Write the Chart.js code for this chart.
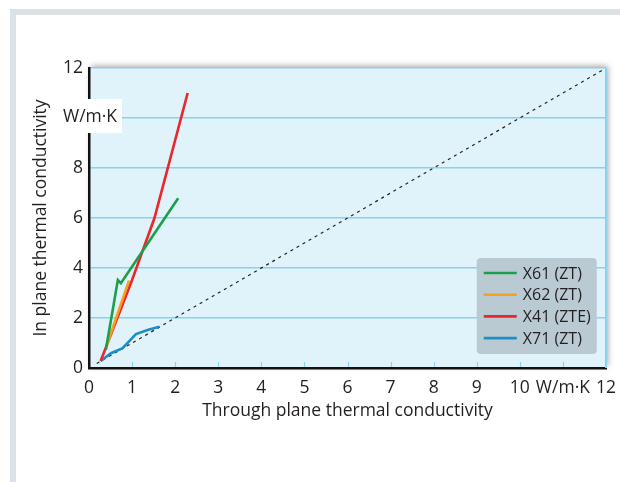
<!DOCTYPE html>
<html>
<head>
<meta charset="utf-8">
<script src="https://cdn.jsdelivr.net/npm/chart.js@4"></script>
<style>
  body { margin: 0; background: #fff; }
  canvas { display: block; }
</style>
</head>
<body>
<canvas id="chart" width="620" height="482"></canvas>
<script>
// tick labels
const unitLabel = "W/m·K";
const xTitle = "Through plane thermal conductivity";
const yTitle = "In plane thermal conductivity";

// series (x = through plane, y = in plane)
const x61X = [0.39, 0.67, 0.74, 2.07];
const x61Y = [0.72, 3.52, 3.39, 6.79];
const x62X = [0.42, 0.93];
const x62Y = [0.95, 3.5];
const x41X = [0.27, 1.0, 1.52, 2.29];
const x41Y = [0.28, 3.52, 6.0, 11.0];
const x71X = [0.27, 0.51, 0.78, 1.09, 1.36, 1.63];
const x71Y = [0.28, 0.59, 0.79, 1.36, 1.52, 1.65];
const refX = [0.18, 12];
const refY = [0.18, 12];

const names = ["X61 (ZT)", "X62 (ZT)", "X41 (ZTE)", "X71 (ZT)"];
const colors = ["#1c9e4a", "#f5a01e", "#e8262c", "#1c8ec6"];

const gridBlue = "#86d2f0";
const textColor = "#231f20";
const font = "'Open Sans'";

function pts(xs, ys) {
    return xs.map((x, i) => ({ x: x, y: ys[i] }));
}

const series = [pts(x61X, x61Y), pts(x62X, x62Y), pts(x41X, x41Y), pts(x71X, x71Y)];

const datasets = series.map((d, i) => ({
    label: names[i],
    data: d,
    borderColor: colors[i],
    borderWidth: 2.6,
    pointRadius: 0,
    fill: false,
    tension: 0
}));
datasets.push({
    label: "ref",
    data: pts(refX, refY),
    borderColor: "#222",
    borderWidth: 1.2,
    borderDash: [3, 4],
    pointRadius: 0,
    fill: false
});

const decor = {
    id: "decor",
    beforeDraw(chart) {
        const ctx = chart.ctx;
        const a = chart.chartArea;
        ctx.save();
        // page frame
        ctx.fillStyle = "#dae1e7";
        ctx.fillRect(10, 9, 610, 6);
        ctx.fillRect(10, 9, 6, 473);
        // plot background with a soft shadow
        ctx.shadowColor = "rgba(0,0,0,0.35)";
        ctx.shadowBlur = 6;
        ctx.shadowOffsetX = 2;
        ctx.shadowOffsetY = -2;
        ctx.fillStyle = "#e1f3fa";
        ctx.fillRect(a.left, a.top, a.right - a.left, a.bottom - a.top);
        ctx.restore();
    },
    afterDatasetsDraw(chart) {
        const ctx = chart.ctx;
        const a = chart.chartArea;
        const xs = chart.scales.x;
        const ys = chart.scales.y;
        ctx.save();
        // right border
        ctx.strokeStyle = gridBlue;
        ctx.lineWidth = 2;
        ctx.beginPath();
        ctx.moveTo(a.right, a.top);
        ctx.lineTo(a.right, a.bottom);
        ctx.stroke();
        // inner tick marks on the x axis
        ctx.lineWidth = 1.2;
        for (let v = 1; v < 12; v++) {
            const px = Math.round(xs.getPixelForValue(v)) + 0.5;
            ctx.beginPath();
            ctx.moveTo(px, a.bottom - 1);
            ctx.lineTo(px, a.bottom - 6);
            ctx.stroke();
        }
        // legend
        const lx = xs.getPixelForValue(9.0), ly = ys.getPixelForValue(4.4);
        const lw = 120, lh = 96;
        ctx.fillStyle = "#b9cad3";
        ctx.beginPath();
        ctx.roundRect(lx, ly, lw, lh, 4);
        ctx.fill();
        ctx.font = "16px " + font;
        ctx.textBaseline = "middle";
        names.forEach((n, i) => {
            const y = ly + 15 + i * 21.7;
            ctx.strokeStyle = colors[i];
            ctx.lineWidth = 2.6;
            ctx.beginPath();
            ctx.moveTo(lx + 7, y);
            ctx.lineTo(lx + 40, y);
            ctx.stroke();
            ctx.fillStyle = textColor;
            ctx.fillText(n, lx + 46, y + 1);
        });
        ctx.restore();
    },
    afterDraw(chart) {
        const ctx = chart.ctx;
        const a = chart.chartArea;
        const ys = chart.scales.y;
        const y10 = ys.getPixelForValue(10);
        ctx.save();
        ctx.fillStyle = "#ffffff";
        ctx.fillRect(a.left - 28, y10 - 19, 61, 34);
        ctx.fillStyle = textColor;
        ctx.font = "17.5px " + font;
        ctx.textBaseline = "middle";
        ctx.textAlign = "left";
        ctx.fillText(unitLabel, a.left - 26, y10 - 1);
        ctx.restore();
    }
};

new Chart(document.getElementById("chart"), {
    type: "line",
    data: { datasets: datasets },
    plugins: [decor],
    options: {
        responsive: false,
        animation: false,
        layout: { padding: { left: 25, top: 68, right: 14, bottom: 60 } },
        plugins: { legend: { display: false }, tooltip: { enabled: false } },
        scales: {
            x: {
                type: "linear",
                min: 0,
                max: 12,
                afterFit: s => { s.height = 54; },
                ticks: {
                    stepSize: 1,
                    autoSkip: false,
                    color: textColor,
                    font: { family: font, size: 17.5 },
                    padding: 2,
                    maxRotation: 0,
                    callback: v => (v === 11 ? unitLabel : v)
                },
                grid: { display: false },
                border: { color: "#111", width: 2.5 },
                title: {
                    display: true,
                    text: xTitle,
                    color: textColor,
                    font: { family: font, size: 17.5 },
                    padding: { top: 0, bottom: 0 }
                }
            },
            y: {
                type: "linear",
                min: 0,
                max: 12,
                afterFit: s => { s.width = 64; },
                ticks: {
                    stepSize: 2,
                    color: textColor,
                    font: { family: font, size: 17.5 },
                    padding: 6,
                    callback: v => (v === 10 ? "" : v)
                },
                grid: { color: gridBlue, lineWidth: 1.6, drawTicks: false },
                border: { color: "#111", width: 2.5 },
                title: {
                    display: true,
                    text: yTitle,
                    color: textColor,
                    font: { family: font, size: 17.5 },
                    padding: { top: 6, bottom: 0 }
                }
            }
        }
    }
});
</script>
</body>
</html>
